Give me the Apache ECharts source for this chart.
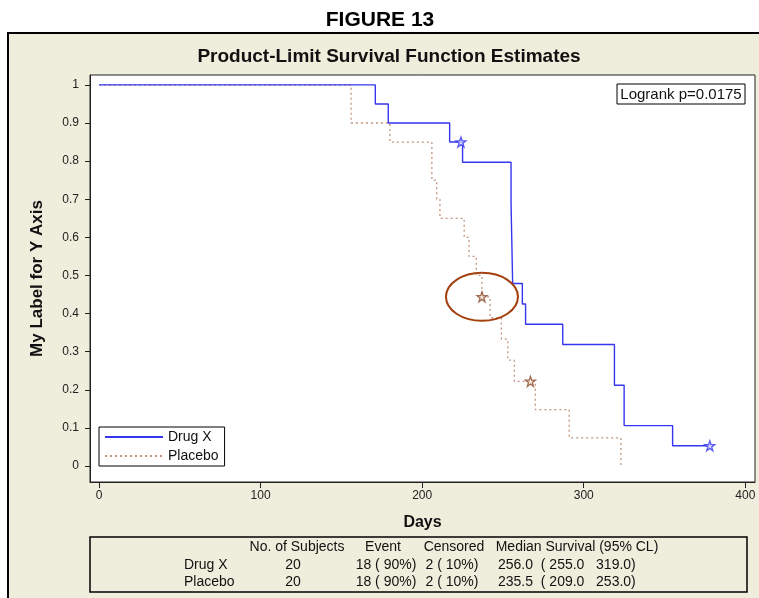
<!DOCTYPE html>
<html lang="en">
<head>
    <meta charset="UTF-8">
    <title>Product-Limit Survival Function Estimates</title>
    <script src="https://cdn.jsdelivr.net/npm/echarts@6.0.0/dist/echarts.min.js"></script>
    <style>
        body { margin: 0; background: #fff; }
        #chart { width: 759px; height: 598px; }
    </style>
</head>
<body>
    <div id="chart"></div>
    <script>
        var FONT = "'Liberation Sans', Arial, sans-serif";

        // Kaplan-Meier steps: day of event, survival after it
        var drugXDays = [0, 171, 179, 217, 225, 255, 256, 262, 264, 287, 319, 325, 355, 378];
        var drugXSurv = [1, 0.95, 0.90, 0.85, 0.797, 0.691, 0.479, 0.425, 0.372, 0.319, 0.212, 0.106, 0.053, 0.053];
        var placeboDays = [0, 156, 180, 206, 209, 211, 226, 229, 233.5, 237, 242, 249, 253, 257, 270, 291, 323];
        var placeboSurv = [1, 0.90, 0.85, 0.75, 0.70, 0.65, 0.60, 0.55, 0.50, 0.444, 0.389, 0.333, 0.278, 0.222, 0.148, 0.074, 0];

        // censored observations
        var drugXCensored = [[224, 0.85], [378, 0.053]];
        var placeboCensored = [[237, 0.444], [267, 0.222]];
        var circledPoint = [237, 0.444];

        var xTicks = [0, 100, 200, 300, 400];
        var yTicks = [0, 0.1, 0.2, 0.3, 0.4, 0.5, 0.6, 0.7, 0.8, 0.9, 1];

        var logrankText = 'Logrank p=0.0175';
        var tableHeader = ['No. of Subjects', 'Event', 'Censored', 'Median Survival (95% CL)'];
        var tableRows = [
            ['Drug X', '20', '18 ( 90%)', '2 ( 10%)', '256.0  ( 255.0   319.0)'],
            ['Placebo', '20', '18 ( 90%)', '2 ( 10%)', '235.5  ( 209.0   253.0)']
        ];

        var STAR = 'path://M50,4 L61,37 L96,37 L68,58 L78,92 L50,71 L22,92 L32,58 L4,37 L39,37 Z';
        var BLUE = '#3535ee';
        var BROWN = '#c0947a';
        var BEIGE = '#efeedc';

        function zip(xs, ys) {
            return xs.map(function (x, i) { return [x, ys[i]]; });
        }

        var myChart = echarts.init(document.getElementById('chart'));

        // table texts
        var tableGraphics = [
            { type: 'rect', z: -50, shape: { x: 90, y: 537, width: 657, height: 55 },
              style: { fill: BEIGE, stroke: '#000', lineWidth: 1.5 } }
        ];
        var headX = [297, 383, 454, 577];
        tableHeader.forEach(function (h, i) {
            tableGraphics.push({ type: 'text', x: headX[i], y: 547,
                style: { text: h, font: '14px ' + FONT, fill: '#111', textAlign: 'center', textVerticalAlign: 'middle' } });
        });
        var colX = [184, 293, 386, 452, 498];
        var colAlign = ['left', 'center', 'center', 'center', 'left'];
        tableRows.forEach(function (row, r) {
            row.forEach(function (cell, c) {
                tableGraphics.push({ type: 'text', x: colX[c], y: 565 + r * 17,
                    style: { text: cell, font: '14px ' + FONT, fill: '#111', textAlign: colAlign[c], textVerticalAlign: 'middle' } });
            });
        });

        var option = {
            animation: false,
            textStyle: { fontFamily: FONT },
            graphic: [
                { type: 'rect', z: -100, shape: { x: 8, y: 33, width: 770, height: 580 },
                  style: { fill: BEIGE, stroke: '#000', lineWidth: 2 } },
                { type: 'text', x: 380, y: 20,
                  style: { text: 'FIGURE 13', font: 'bold 21px ' + FONT, fill: '#000', textAlign: 'center', textVerticalAlign: 'middle' } },
                { type: 'text', x: 389, y: 57,
                  style: { text: 'Product-Limit Survival Function Estimates', font: 'bold 19px ' + FONT, fill: '#111', textAlign: 'center', textVerticalAlign: 'middle' } },
                { type: 'rect', z: 50, shape: { x: 617, y: 84, width: 128, height: 20 },
                  style: { fill: '#fff', stroke: '#000', lineWidth: 1 } },
                { type: 'text', z: 51, x: 681, y: 94.5,
                  style: { text: logrankText, font: '15px ' + FONT, fill: '#111', textAlign: 'center', textVerticalAlign: 'middle' } }
            ].concat(tableGraphics),
            legend: {
                data: ['Drug X', 'Placebo'],
                orient: 'vertical',
                left: 99,
                top: 427,
                itemWidth: 58,
                itemHeight: 10,
                itemGap: 5,
                padding: [3, 6, 3, 5],
                backgroundColor: '#fff',
                borderColor: '#000',
                borderWidth: 1,
                itemStyle: { opacity: 0 },
                textStyle: { fontSize: 14, color: '#111', fontFamily: FONT }
            },
            grid: {
                left: 90, right: 4, top: 75, bottom: 116,
                show: true, backgroundColor: '#fff', borderColor: '#222', borderWidth: 1
            },
            xAxis: {
                type: 'value',
                min: -5.6,
                max: 406,
                name: 'Days',
                nameLocation: 'middle',
                nameGap: 33,
                nameTextStyle: { fontWeight: 'bold', fontSize: 16, color: '#111', fontFamily: FONT },
                axisLine: { show: true, onZero: false, lineStyle: { color: '#222' } },
                axisTick: { show: true, length: 6, customValues: xTicks, lineStyle: { color: '#222' } },
                axisLabel: { customValues: xTicks, fontSize: 12, color: '#222', margin: 8 },
                splitLine: { show: false }
            },
            yAxis: {
                type: 'value',
                min: -0.042,
                max: 1.026,
                name: 'My Label for Y Axis',
                nameLocation: 'middle',
                nameGap: 44,
                nameRotate: 90,
                nameTextStyle: { fontWeight: 'bold', fontSize: 17, color: '#111', fontFamily: FONT },
                axisLine: { show: true, onZero: false, lineStyle: { color: '#222' } },
                axisTick: { show: true, length: 5, customValues: yTicks, lineStyle: { color: '#222' } },
                axisLabel: { customValues: yTicks, fontSize: 12, color: '#222', margin: 11 },
                splitLine: { show: false }
            },
            series: [
                {
                    name: 'Drug X',
                    type: 'line',
                    step: 'end',
                    data: zip(drugXDays, drugXSurv),
                    symbol: 'none',
                    color: BLUE,
                    lineStyle: { color: BLUE, width: 1.4 },
                    z: 3
                },
                {
                    name: 'Placebo',
                    type: 'line',
                    step: 'end',
                    data: zip(placeboDays, placeboSurv),
                    symbol: 'none',
                    color: BROWN,
                    lineStyle: { color: BROWN, width: 1.3, type: [2, 3] },
                    z: 2
                },
                {
                    name: 'Drug X censored',
                    type: 'scatter',
                    data: drugXCensored,
                    symbol: STAR,
                    symbolSize: 10,
                    itemStyle: { color: '#dcdcff', borderColor: BLUE, borderWidth: 1.3 },
                    z: 5
                },
                {
                    name: 'Placebo censored',
                    type: 'scatter',
                    data: placeboCensored,
                    symbol: STAR,
                    symbolSize: 10,
                    itemStyle: { color: '#f2e2d6', borderColor: '#8a4a2a', borderWidth: 1.3 },
                    z: 5
                },
                {
                    name: 'Highlight',
                    type: 'custom',
                    data: [circledPoint],
                    silent: true,
                    z: 6,
                    renderItem: function (params, api) {
                        var c = api.coord([api.value(0), api.value(1)]);
                        return {
                            type: 'path',
                            shape: {
                                pathData: 'M0,24 A36,24 0 1,0 72,24 A36,24 0 1,0 0,24 Z',
                                x: c[0] - 36, y: c[1] - 24, width: 72, height: 48
                            },
                            style: { fill: 'none', stroke: '#a3400e', lineWidth: 2 }
                        };
                    }
                }
            ]
        };

        myChart.setOption(option);
    </script>
</body>
</html>
